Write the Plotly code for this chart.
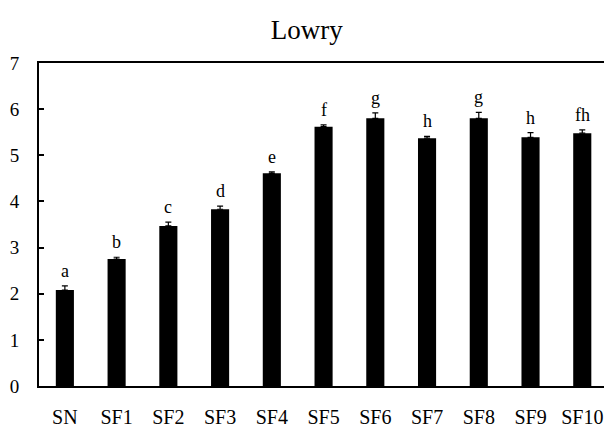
import plotly.graph_objects as go

categories = ["SN", "SF1", "SF2", "SF3", "SF4", "SF5", "SF6", "SF7", "SF8", "SF9", "SF10"]
values = [2.08, 2.75, 3.47, 3.83, 4.61, 5.62, 5.80, 5.37, 5.80, 5.39, 5.48]
errors = [0.09, 0.04, 0.08, 0.07, 0.03, 0.04, 0.12, 0.04, 0.13, 0.10, 0.07]
letters = ["a", "b", "c", "d", "e", "f", "g", "h", "g", "h", "fh"]
y_ticks = [0, 1, 2, 3, 4, 5, 6, 7]

FONT = "Liberation Serif"

fig = go.Figure()
fig.add_trace(go.Bar(
    x=categories, y=values, width=0.35,
    marker=dict(color="black", line=dict(width=0)),
    error_y=dict(type="data", array=errors, arrayminus=[0] * len(errors), symmetric=False,
                 color="black", thickness=1.2, width=3),
))

for c, v, e, t in zip(categories, values, errors, letters):
    fig.add_annotation(x=c, y=v + e, text=t, showarrow=False, yanchor="bottom",
                       yshift=3, font=dict(family=FONT, size=18, color="black"))

fig.update_layout(
    width=604, height=428,
    margin=dict(l=39, r=0, t=63, b=42, autoexpand=False),
    paper_bgcolor="white", plot_bgcolor="white",
    showlegend=False,
    title=dict(text="Lowry", x=0.508, xref="container", y=1 - 30 / 428, yref="container",
               xanchor="center", yanchor="middle",
               font=dict(family=FONT, size=27, color="black")),
    font=dict(family=FONT, color="black"),
)
fig.update_xaxes(
    range=[-0.5, 10.42], showline=True, linecolor="black", linewidth=2, mirror=True,
    ticks="", showgrid=False, tickfont=dict(family=FONT, size=20, color="black"),
    ticklabelstandoff=12, automargin=False,
)
fig.update_yaxes(
    range=[0, 7], tickvals=y_ticks, showline=True, linecolor="black", linewidth=2,
    ticks="inside", ticklen=5, tickcolor="black", tickwidth=1.5, showgrid=False, zeroline=False,
    tickfont=dict(family=FONT, size=19, color="black"), ticklabelstandoff=14, automargin=False,
)

fig.write_html("out.html", config={"displayModeBar": False},
               post_script="document.body.style.margin='0';document.body.style.overflow='hidden';")
